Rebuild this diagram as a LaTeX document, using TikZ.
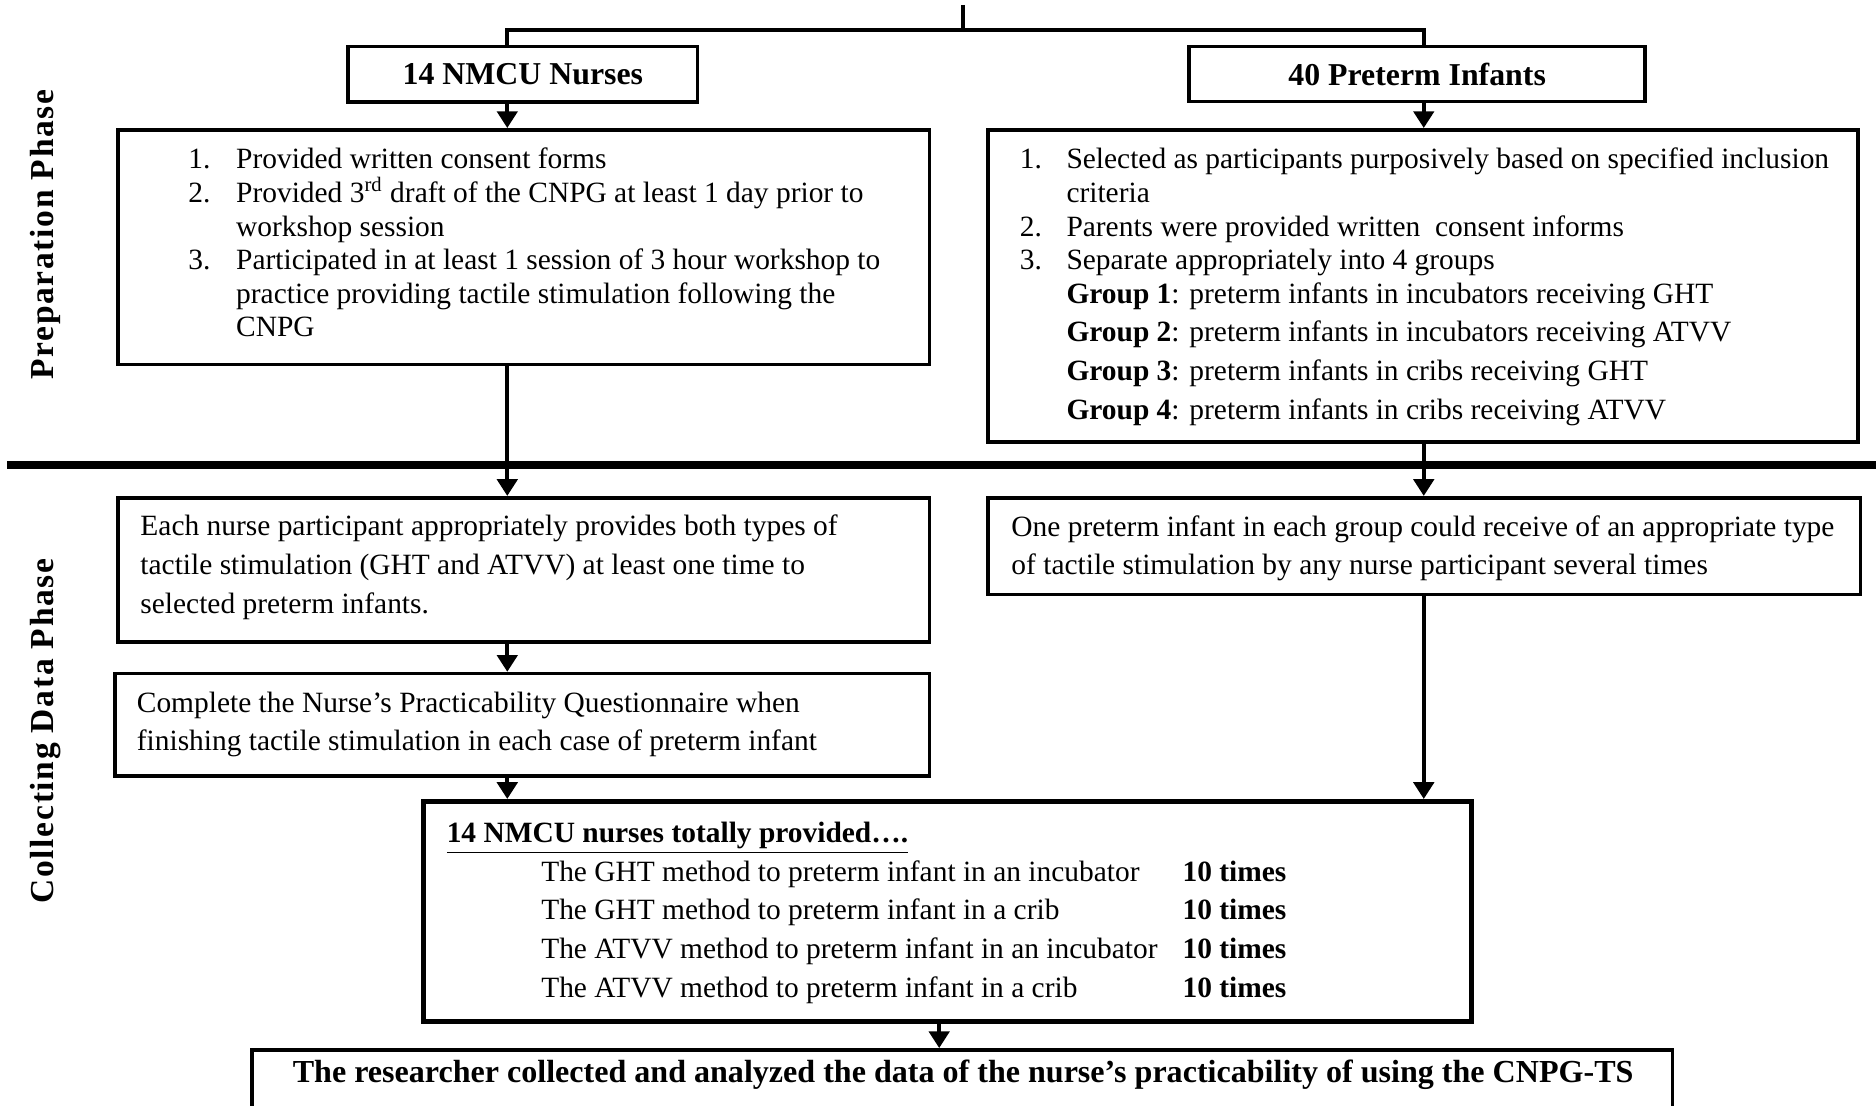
\documentclass[tikz,border=0pt]{standalone}
\usepackage{fontspec}
\setmainfont{Liberation Serif}
\newfontfamily\phasefont[LetterSpace=5]{Liberation Serif}
\usetikzlibrary{arrows.meta,fit}
\tikzset{
  box/.style={draw, line width=1.5pt, inner sep=0pt},
  sumbox/.style={box, line width=2.2pt},
  arr/.style={line width=1.6pt, -{Triangle[width=8.5pt,length=7pt]}},
  ln/.style={line width=1.5pt},
  sepline/.style={line width=3.2pt},
  txt/.style={anchor=base west, inner sep=0pt, font=\fontsize{12.3}{14}\selectfont},
  btxt/.style={txt, font=\bfseries\fontsize{12.3}{14}\selectfont},
  bigb/.style={inner sep=0pt, font=\bfseries\fontsize{13.4}{15}\selectfont},
  title/.style={inner sep=0pt, font=\bfseries\fontsize{13.3}{15}\selectfont},
  phase/.style={rotate=90, inner sep=0pt, font=\phasefont\bfseries\fontsize{14}{16}\selectfont}
}
\begin{document}
\begin{tikzpicture}[x=0.5pt,y=-0.5pt]
\useasboundingbox (0,0) rectangle (1568,924);
% helper x positions
\coordinate (L) at (424,0);
\coordinate (R) at (1190,0);
\coordinate (M) at (785,0);
% boxes
\node[box, fit={(291,39)(583,85.5)}] (nurse) {};
\node[box, fit={(994,39)(1375,85)}] (infant) {};
\node[box, fit={(98.5,108.5)(777,304.5)}] (nlist) {};
\node[box, fit={(826,108.5)(1553,369.5)}] (ilist) {};
\node[box, fit={(98.5,416)(777,536.5)}] (each) {};
\node[box, fit={(826,416)(1555,497)}] (onep) {};
\node[box, fit={(96,563)(777,648.5)}] (complete) {};
\node[sumbox, fit={(354,670)(1230,854)}] (summary) {};
\node[box, fit={(210.5,877.5)(1398,945)}] (final) {};
% titles
\node[title] (nurseT) at (nurse.center) {14 NMCU Nurses};
\node[title] (infantT) at (infant.center) {40 Preterm Infants};
% top bracket
\coordinate (s0) at (805,4);
\coordinate (s1) at (805,25);
\draw[ln] (s0) -- (s1);
\draw[ln] (nurse.north -| L) |- (s1) -| (infant.north -| R);
% separator
\coordinate (sepL) at (6,388.5);
\coordinate (sepR) at (1568,388.5);
\draw[sepline] (sepL) -- (sepR);
% arrows
\draw[arr] (nurse.south -| L) -- (nlist.north -| L);
\draw[arr] (infant.south -| R) -- (ilist.north -| R);
\draw[arr] (nlist.south -| L) -- (each.north -| L);
\draw[arr] (ilist.south -| R) -- (onep.north -| R);
\draw[arr] (each.south -| L) -- (complete.north -| L);
\draw[arr] (complete.south -| L) -- (summary.north -| L);
\draw[arr] (onep.south -| R) -- (summary.north -| R);
\draw[arr] (summary.south -| M) -- (final.north -| M);
% phase labels
\node[phase] (prep) at (38,196) {Preparation Phase};
\node[phase] (coll) at (38,611) {Collecting Data Phase};
% nurse list
\node[txt] (n1n) at (157,140.5) {1.};
\node[txt] (n1) at (197,140.5) {Provided written consent forms};
\node[txt] (n2n) at (157,169) {2.};
\node[txt] (n2) at (197,169) {Provided 3\textsuperscript{rd} draft of the CNPG at least 1 day prior to};
\node[txt] (n2b) at (197,197.5) {workshop session};
\node[txt] (n3n) at (157,225.5) {3.};
\node[txt] (n3) at (197,225.5) {Participated in at least 1 session of 3 hour workshop to};
\node[txt] (n3b) at (197,253.5) {practice providing tactile stimulation following the};
\node[txt] (n3c) at (197,281.5) {CNPG};
% infant list
\node[txt] (i1n) at (852,140.5) {1.};
\node[txt] (i1) at (891,140.5) {Selected as participants purposively based on specified inclusion};
\node[txt] (i1b) at (891,169) {criteria};
\node[txt] (i2n) at (852,197.5) {2.};
\node[txt] (i2) at (891,197.5) {Parents were provided written\ \ consent informs};
\node[txt] (i3n) at (852,225.5) {3.};
\node[txt] (i3) at (891,225.5) {Separate appropriately into 4 groups};
\node[txt] (g1) at (891,253.5) {\textbf{Group 1}: preterm infants in incubators receiving GHT};
\node[txt] (g2) at (891,285.5) {\textbf{Group 2}: preterm infants in incubators receiving ATVV};
\node[txt] (g3) at (891,318) {\textbf{Group 3}: preterm infants in cribs receiving GHT};
\node[txt] (g4) at (891,350.5) {\textbf{Group 4}: preterm infants in cribs receiving ATVV};
% each nurse
\node[txt] (e1) at (117,447.5) {Each nurse participant appropriately provides both types of};
\node[txt] (e2) at (117,480.5) {tactile stimulation (GHT and ATVV) at least one time to};
\node[txt] (e3) at (117,512.5) {selected preterm infants.};
% one preterm
\node[txt] (o1) at (845,448.5) {One preterm infant in each group could receive of an appropriate type};
\node[txt] (o2) at (845,480.5) {of tactile stimulation by any nurse participant several times};
% complete
\node[txt] (c1) at (114,595.5) {Complete the Nurse’s Practicability Questionnaire when};
\node[txt] (c2) at (114,627.5) {finishing tactile stimulation in each case of preterm infant};
% summary
\node[btxt] (sh) at (373,704.5) {\underline{14 NMCU nurses totally provided….}};
\node[txt] (s1a) at (452,736.5) {The GHT method to preterm infant in an incubator};
\node[btxt] (s1b) at (988,736.5) {10 times};
\node[txt] (s2a) at (452,768.5) {The GHT method to preterm infant in a crib};
\node[btxt] (s2b) at (988,768.5) {10 times};
\node[txt] (s3a) at (452,801.5) {The ATVV method to preterm infant in an incubator};
\node[btxt] (s3b) at (988,801.5) {10 times};
\node[txt] (s4a) at (452,833.5) {The ATVV method to preterm infant in a crib};
\node[btxt] (s4b) at (988,833.5) {10 times};
% final
\node[bigb, anchor=base] (ft) at (805,905) {The researcher collected and analyzed the data of the nurse’s practicability of using the CNPG-TS};
\end{tikzpicture}
\end{document}
